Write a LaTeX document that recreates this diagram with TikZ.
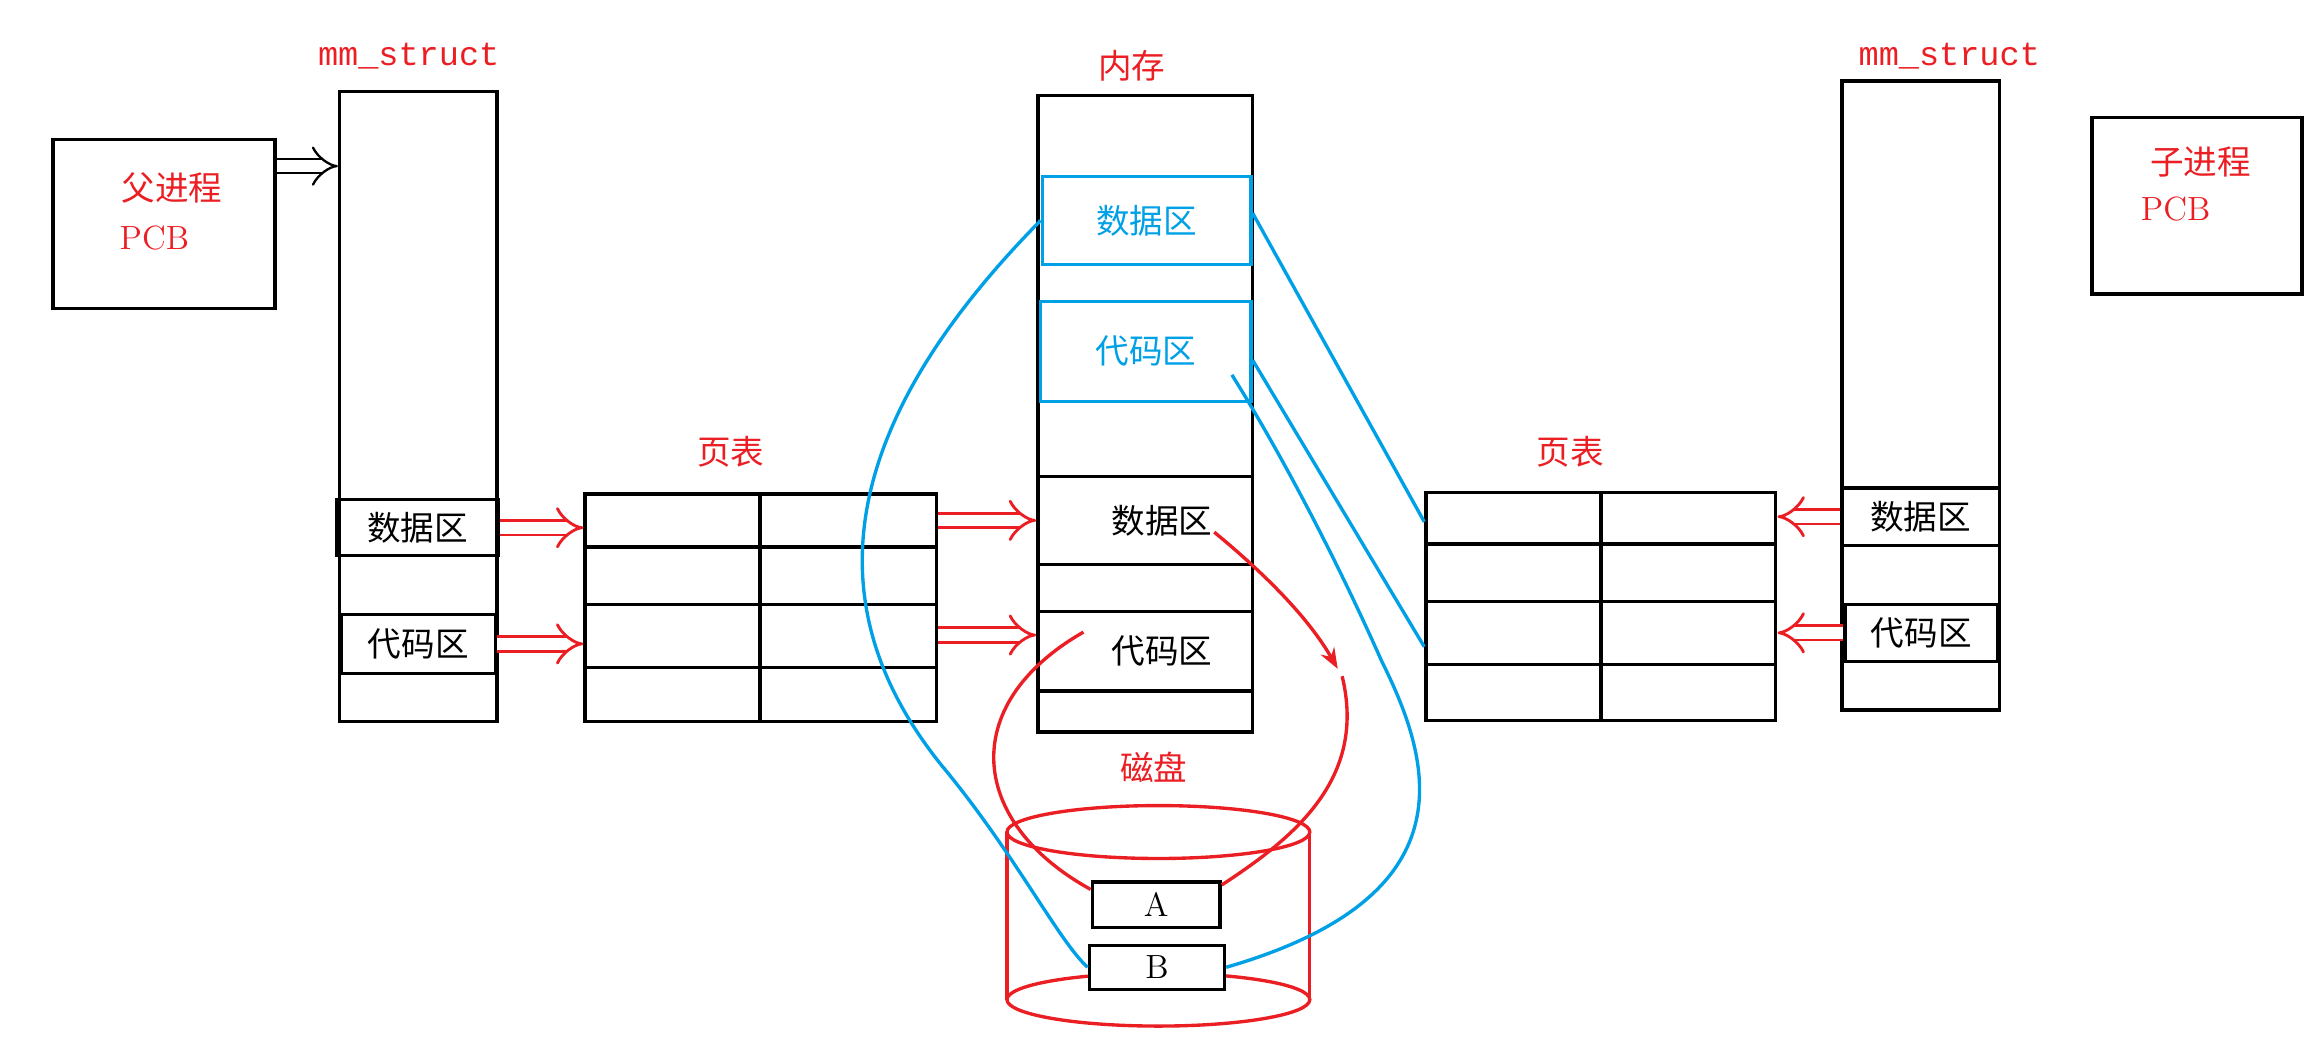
\documentclass[tikz,border=0pt]{standalone}
\usepackage{fontspec}
\setmonofont{Liberation Mono}
\newfontfamily\cjk{Noto Sans CJK SC}
\usetikzlibrary{arrows.meta}
\definecolor{myblue}{RGB}{0,160,230}
\definecolor{myred}{RGB}{235,30,35}
\tikzset{
  box/.style={draw, line width=1.3pt, inner sep=0pt},
  bluebox/.style={draw=myblue, line width=1.3pt, inner sep=0pt, text=myblue},
  redlabel/.style={text=myred, inner sep=0pt},
  hollow/.style={draw=myred, double=white, double distance=4.5pt, line width=1.1pt, -{Implies}},
  hollowk/.style={draw=black, double=white, double distance=4.5pt, line width=0.9pt, -{Implies}},
  blueline/.style={myblue, line width=1.3pt},
  redline/.style={myred, line width=1.3pt},
}
\begin{document}
\begin{tikzpicture}[x=0.02cm, y=-0.02cm, font=\cjk\fontsize{13}{15}\selectfont]
\useasboundingbox (0,0) rectangle (1568,722);
% parent side
\node (ppcb) [box, minimum width=3.02cm, minimum height=2.3cm] at (111.5,152.5) {};
\node [redlabel] at (117,128) {父进程};
\node [redlabel, font=\rmfamily\fontsize{13}{15}\selectfont] at (105,162) {PCB};
\node [redlabel, font=\ttfamily\fontsize{13}{15}\selectfont] at (278,38) {mm\_struct};
\node (mmL) [box, minimum width=2.14cm, minimum height=8.58cm] at (284.5,276.5) {};
\node (mdataL) [box, minimum width=2.2cm, minimum height=0.76cm] at (284,359) {数据区};
\node (mcodeL) [box, minimum width=2.1cm, minimum height=0.8cm] at (284.5,438) {代码区};
\draw [hollowk] (ppcb.east |- 0,113) -- (mmL.west |- 0,113);
% left page table
\node [redlabel] at (497,307) {页表};
\node (ptL) [box, minimum width=4.78cm, minimum height=3.1cm] at (517.5,413.5) {};
\draw [line width=1.3pt] (517,336) -- (517,491);
\foreach \y in {372,411,454} \draw [line width=1.3pt] (398,\y) -- (637,\y);
\draw [hollow] (mdataL.east) -- (ptL.west |- mdataL.east);
\draw [hollow] (mcodeL.east) -- (ptL.west |- mcodeL.east);
% memory
\node [redlabel] at (770,45) {内存};
\node (mem) [box, minimum width=2.92cm, minimum height=8.66cm] at (779,281.5) {};
\node (bdata) [bluebox, minimum width=2.84cm, minimum height=1.2cm] at (780,150) {数据区};
\node (bcode) [bluebox, minimum width=2.86cm, minimum height=1.36cm] at (779.5,239) {代码区};
\node (kdata) [box, minimum width=2.92cm, minimum height=1.2cm] at (779,354) {\hspace{1em}数据区};
\node (kcode) [box, minimum width=2.92cm, minimum height=1.08cm] at (779,443) {\hspace{1em}代码区};
\draw [hollow] (ptL.east |- kdata.west) -- (kdata.west);
\draw [hollow] (ptL.east |- 0,432) -- (kcode.west |- 0,432);
% disk
\node [redlabel] at (785,522) {磁盘};
\coordinate (dtop) at (788,566);
\coordinate (dbot) at (788,680);
\draw [redline] (dtop) ellipse [x radius=103, y radius=18];
\draw [redline] (dbot) ellipse [x radius=103, y radius=18];
\draw [redline] (685,566) -- (685,680);
\draw [redline] (891,566) -- (891,680);
\node (pa) [box, fill=white, minimum width=1.74cm, minimum height=0.62cm, font=\rmfamily\fontsize{13}{15}\selectfont] at (786.5,615.5) {A};
\node (pb) [box, fill=white, minimum width=1.84cm, minimum height=0.6cm, font=\rmfamily\fontsize{13}{15}\selectfont] at (787,658) {B};
% right page table
\node [redlabel] at (1068,307) {页表};
\node (ptR) [box, minimum width=4.76cm, minimum height=3.1cm] at (1089,412.5) {};
\draw [line width=1.3pt] (1089,335) -- (1089,490);
\foreach \y in {370,409,452} \draw [line width=1.3pt] (970,\y) -- (1208,\y);
% child side
\node [redlabel, font=\ttfamily\fontsize{13}{15}\selectfont] at (1326,38) {mm\_struct};
\node (mmR) [box, minimum width=2.14cm, minimum height=8.56cm] at (1306.5,269) {};
\node (mdataR) [box, minimum width=2.14cm, minimum height=0.78cm] at (1306.5,351.5) {数据区};
\node (mcodeR) [box, minimum width=2.08cm, minimum height=0.78cm] at (1307,430.5) {代码区};
\node (cpcb) [box, minimum width=2.86cm, minimum height=2.4cm] at (1494.5,140) {};
\node [redlabel] at (1497,110) {子进程};
\node [redlabel, font=\rmfamily\fontsize{13}{15}\selectfont] at (1480,142) {PCB};
\draw [hollow] (mdataR.west) -- (ptR.east |- mdataR.west);
\draw [hollow] (mcodeR.west) -- (ptR.east |- mcodeR.west);
% blue links
\draw [blueline] (bdata.east |- 0,145) -- (ptR.west |- 0,355);
\draw [blueline] (bcode.east |- 0,245) -- (ptR.west |- 0,440);
\draw [blueline] (bdata.west) .. controls (560,300) and (560,420) .. (640,520) .. controls (690,580) and (720,640) .. (pb.west);
\draw [blueline] (pb.east) .. controls (1000,610) and (975,520) .. (940,450) .. controls (900,360) and (860,290) .. (838,255);
% red links
\draw [redline] (737,430) .. controls (650,480) and (660,560) .. (pa.west |- 0,605);
\draw [redline, -{Stealth[length=8pt]}] (826,362) .. controls (860,390) and (890,420) .. (910,455);
\draw [redline] (913,460) .. controls (930,530) and (880,570) .. (pa.east |- 0,602);
\end{tikzpicture}
\end{document}
